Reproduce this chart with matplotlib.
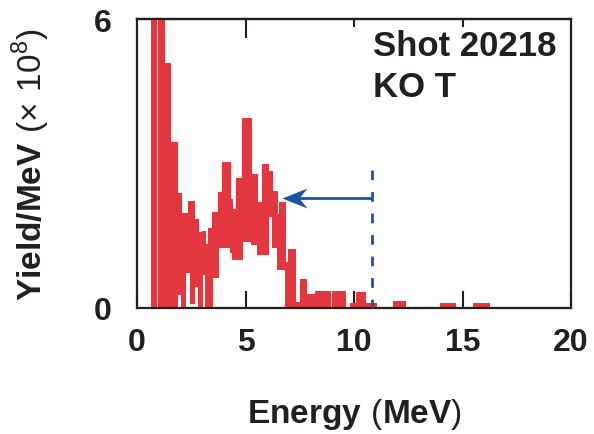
import numpy as np
import matplotlib
matplotlib.use("Agg")
import matplotlib.pyplot as plt
from matplotlib.path import Path

plt.rcParams['font.family'] = ['Liberation Sans', 'DejaVu Sans']
plt.rcParams['mathtext.fontset'] = 'custom'
plt.rcParams['mathtext.rm'] = 'Liberation Sans'
plt.rcParams['mathtext.bf'] = 'Liberation Sans:bold'
plt.rcParams['lines.scale_dashes'] = False

# ---- data ----
# each energy column: [e_lo, e_hi], spectrum spans from y_low to y_high (x 1e8 / MeV)
e_lo = [0.65, 0.97, 1.24, 1.52, 1.84, 2.03, 2.20, 2.35, 2.45, 2.63, 2.80, 3.00, 3.13, 3.27,
        3.45, 3.73, 3.92, 4.29, 4.38, 4.56, 4.84, 5.25, 5.53, 5.76, 6.04, 6.22, 6.45, 6.55,
        6.80, 6.96, 7.30, 7.50, 7.80, 8.20, 9.00, 9.80, 10.10, 10.50, 11.80, 13.00, 13.95, 15.50]
e_hi = [0.88, 1.24, 1.52, 1.84, 2.03, 2.20, 2.35, 2.45, 2.63, 2.80, 3.00, 3.13, 3.27, 3.45,
        3.73, 3.92, 4.29, 4.38, 4.56, 4.84, 5.25, 5.53, 5.76, 6.04, 6.22, 6.45, 6.55, 6.80,
        6.96, 7.30, 7.50, 7.80, 8.20, 8.90, 9.60, 10.10, 10.50, 11.00, 12.35, 13.80, 14.65, 16.20]
y_high = [6.5, 6.5, 5.08, 3.44, 2.39, 1.97, 1.97, 2.22, 2.22, 1.85, 1.58, 1.60, 1.33, 1.66,
          2.00, 2.40, 3.03, 2.26, 2.06, 2.70, 3.94, 2.78, 2.20, 3.00, 2.85, 2.43, 1.95, 2.20,
          0.95, 1.22, 0.12, 0.60, 0.30, 0.35, 0.35, 0.10, 0.33, 0.10, 0.14, 0.02, 0.10, 0.10]
y_low = [0.0, 0.0, 0.0, 0.0, 0.30, 0.0, 0.75, 0.75, 0.10, 0.45, 0.0, 0.70, 0.0, 0.0,
         0.64, 1.27, 1.27, 1.16, 1.02, 1.02, 1.40, 1.33, 1.12, 1.12, 1.90, 1.27, 0.80, 0.80,
         0.0, 0.0, 0.0, 0.0, 0.0, 0.0, 0.0, 0.0, 0.0, 0.0, 0.0, -0.06, 0.0, 0.0]

cutoff_energy = 10.83
cutoff_top = 2.87
arrow_y = 2.28
arrow_tip = 6.68

x_ticks = [0, 5, 10, 15, 20]
y_ticks = [0, 6]

red = '#e2373f'
blue = '#1a54a6'
dark = '#231f20'

fig = plt.figure(figsize=(5.94, 4.35), dpi=100)
ax = fig.add_axes([137/594, 1-309/435, (571-137)/594, (309-20)/435])

lo = np.array(e_lo); hi = np.array(e_hi)
yh = np.array(y_high); yl = np.array(y_low)
ax.bar(lo, yh - yl, bottom=yl, width=hi - lo, align='edge', color=red,
       edgecolor=red, linewidth=0.8, zorder=2)

# dashed cutoff line
ax.plot([cutoff_energy, cutoff_energy], [cutoff_top, 0], color=blue, lw=2.0,
        dashes=(7, 8.5), solid_capstyle='butt', dash_capstyle='butt', zorder=3)
# arrow shaft
ax.plot([cutoff_energy, arrow_tip + 0.6], [arrow_y, arrow_y], color=blue, lw=2.0,
        solid_capstyle='butt', zorder=3)
# arrow head (swept back)
head = Path([(0, 0), (2, 0.8), (1.36, 0), (2, -0.8), (0, 0)],
            [Path.MOVETO, Path.LINETO, Path.LINETO, Path.LINETO, Path.CLOSEPOLY])
ax.plot([arrow_tip], [arrow_y], marker=head, markersize=36, color=blue,
        markeredgewidth=0, zorder=4, clip_on=False)

ax.set_xlim(0, 20)
ax.set_ylim(0, 6)
ax.set_xticks(x_ticks)
ax.set_yticks(y_ticks)
ax.tick_params(axis='x', direction='in', length=12.5, width=1.5, color=dark,
               labelsize=23, pad=14, labelcolor=dark)
ax.tick_params(axis='y', length=0, labelsize=23, pad=18, labelcolor=dark)
for lab in ax.get_xticklabels() + ax.get_yticklabels():
    lab.set_fontweight('bold')
for s in ax.spines.values():
    s.set_linewidth(1.6)
    s.set_color(dark)

sec = ax.secondary_xaxis('top')
sec.set_xticks([5], labels=[''])
sec.set_xticks([10, 15], labels=['', ''], minor=True)
sec.tick_params(which='major', direction='in', length=13.5, width=1.5, color=dark)
sec.tick_params(which='minor', direction='in', length=5.5, width=1.5, color=dark)
sec.spines['top'].set_linewidth(1.6)
sec.spines['top'].set_color(dark)

ax.set_xlabel(r'$\mathbf{Energy}\ (\mathbf{MeV})$', fontsize=24, color=dark)
ax.set_ylabel(r'$\mathbf{Yield/MeV}\ (\times\ 10^{8})$', fontsize=24, color=dark)
ax.xaxis.set_label_coords(0.5, -0.305)
ax.yaxis.set_label_coords(-0.195, 0.5)

ax.text(10.88, 5.25, 'Shot 20218', fontsize=25, fontweight='bold', color=dark,
        va='baseline', ha='left')
ax.text(10.88, 4.40, 'KO T', fontsize=25, fontweight='bold', color=dark,
        va='baseline', ha='left')

fig.savefig('out.png', dpi=100)
